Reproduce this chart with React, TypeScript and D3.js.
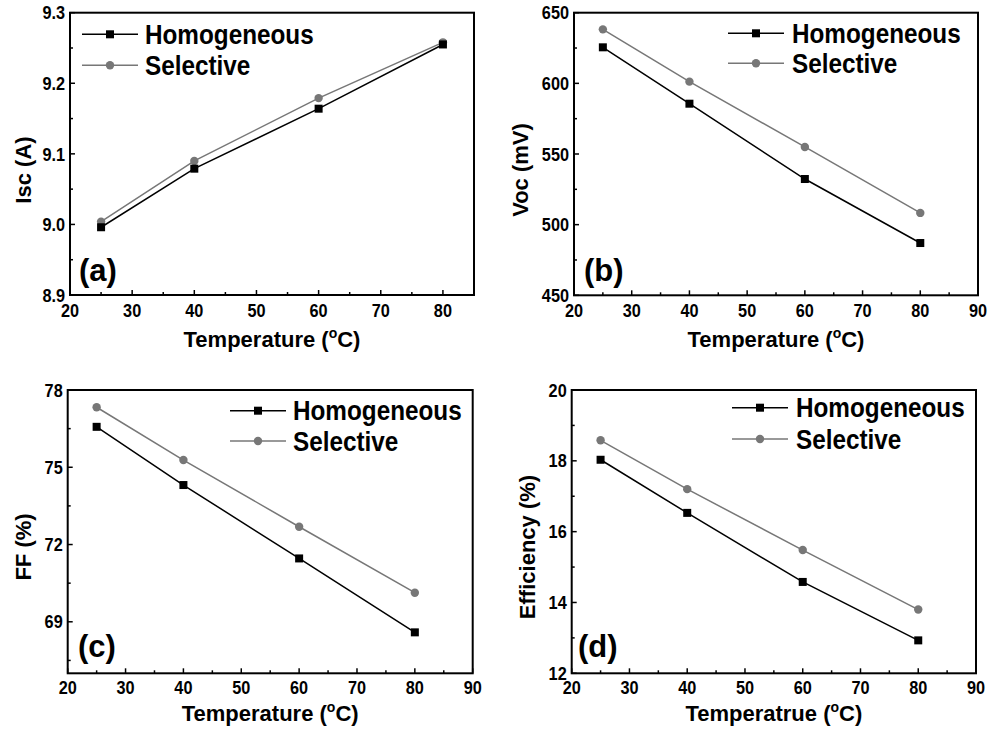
import React from "react";
import * as d3 from "d3";

const temps = [25, 40, 60, 80];
const iscHomog = [8.996, 9.079, 9.164, 9.255];
const iscSel = [9.004, 9.09, 9.179, 9.258];
const vocHomog = [625.5, 585.6, 532.3, 487.0];
const vocSel = [638.2, 601.2, 555.0, 508.3];
const ffHomog = [76.57, 74.31, 71.46, 68.59];
const ffSel = [77.33, 75.28, 72.69, 70.13];
const effHomog = [18.03, 16.53, 14.58, 12.93];
const effSel = [18.58, 17.2, 15.48, 13.8];
const seriesNames = ["Homogeneous", "Selective"];

const FONT = "'Liberation Sans', Arial, Helvetica, sans-serif";
const GRAY = "#777777";

type Panel = {
  id: string;
  label: string;
  yTitle: string;
  xTitle: string;
  left: number; right: number; top: number; bottom: number;
  xDomain: [number, number];
  yDomain: [number, number];
  yMajor: number[];
  yMinor: number[];
  xMajor: number[];
  xMinor: number[];
  yFmt: (v: number) => string;
  homog: number[];
  sel: number[];
  legX1: number; legX2: number; legText: number; legY1: number; legY2: number;
  labelX: number; labelY: number;
  yTitleX: number; yTitleY: number;
  xTitleY: number;
  xTickY: number;
};

const range = (a: number, b: number, s: number) => d3.range(a, b + s / 2, s);

const panels: Panel[] = [
  {
    id: "a", label: "(a)", yTitle: "Isc (A)", xTitle: "Temperature (",
    left: 70, right: 474, top: 12.7, bottom: 295,
    xDomain: [20, 85], yDomain: [8.9, 9.3],
    yMajor: range(8.9, 9.3, 0.1), yMinor: range(8.95, 9.25, 0.1),
    xMajor: range(20, 80, 10), xMinor: range(25, 75, 10),
    yFmt: d3.format(".1f"),
    homog: iscHomog, sel: iscSel,
    legX1: 82, legX2: 138, legText: 145, legY1: 34.3, legY2: 65.3,
    labelX: 79, labelY: 281, yTitleX: 23, yTitleY: 170, xTitleY: 347, xTickY: 317,
  },
  {
    id: "b", label: "(b)", yTitle: "Voc (mV)", xTitle: "Temperature (",
    left: 574, right: 978, top: 12.7, bottom: 295.3,
    xDomain: [20, 90], yDomain: [450, 650],
    yMajor: range(450, 650, 50), yMinor: range(475, 625, 50),
    xMajor: range(20, 90, 10), xMinor: range(25, 85, 10),
    yFmt: d3.format("d"),
    homog: vocHomog, sel: vocSel,
    legX1: 728, legX2: 784, legText: 792, legY1: 33.3, legY2: 63.3,
    labelX: 584, labelY: 281, yTitleX: 520, yTitleY: 170, xTitleY: 347, xTickY: 317,
  },
  {
    id: "c", label: "(c)", yTitle: "FF (%)", xTitle: "Temperature (",
    left: 67.7, right: 472.7, top: 390, bottom: 673.3,
    xDomain: [20, 90], yDomain: [67, 78],
    yMajor: range(69, 78, 3), yMinor: range(67.5, 76.5, 3),
    xMajor: range(20, 90, 10), xMinor: range(25, 85, 10),
    yFmt: d3.format("d"),
    homog: ffHomog, sel: ffSel,
    legX1: 230, legX2: 286, legText: 293, legY1: 410.7, legY2: 441,
    labelX: 78, labelY: 657, yTitleX: 23, yTitleY: 547, xTitleY: 721, xTickY: 694,
  },
  {
    id: "d", label: "(d)", yTitle: "Efficiency (%)", xTitle: "Temperatrue (",
    left: 571.7, right: 976, top: 390, bottom: 673.3,
    xDomain: [20, 90], yDomain: [12, 20],
    yMajor: range(12, 20, 2), yMinor: range(13, 19, 2),
    xMajor: range(20, 90, 10), xMinor: range(25, 85, 10),
    yFmt: d3.format("d"),
    homog: effHomog, sel: effSel,
    legX1: 732, legX2: 788, legText: 796, legY1: 407.7, legY2: 439,
    labelX: 578, labelY: 657, yTitleX: 527, yTitleY: 547, xTitleY: 721, xTickY: 694,
  },
];

function Txt({ x, y, sx = 1, size, anchor = "start", dy, rotate = 0, children }: any) {
  return (
    <g transform={`translate(${x},${y}) rotate(${rotate}) scale(${sx},1)`}>
      <text dy={dy} textAnchor={anchor} fontSize={size} fontWeight="bold" fontFamily={FONT}>{children}</text>
    </g>
  );
}

function PanelView({ p }: { p: Panel }) {
  const x = d3.scaleLinear().domain(p.xDomain).range([p.left, p.right]);
  const y = d3.scaleLinear().domain(p.yDomain).range([p.bottom, p.top]);
  const line = d3.line<number>().x((_, i) => x(temps[i])).y((v) => y(v));
  const M = 5, m = 3;
  const sq = 8, r = 4.2;
  return (
    <g>
      <path d={line(p.sel) || ""} fill="none" stroke={GRAY} strokeWidth={1.5} />
      <path d={line(p.homog) || ""} fill="none" stroke="#000" strokeWidth={1.5} />
      {p.sel.map((v, i) => (
        <circle key={"s" + i} cx={x(temps[i])} cy={y(v)} r={r} fill={GRAY} />
      ))}
      {p.homog.map((v, i) => (
        <rect key={"h" + i} x={x(temps[i]) - sq / 2} y={y(v) - sq / 2} width={sq} height={sq} fill="#000" />
      ))}
      {p.xMajor.map((t) => (
        <line key={"xm" + t} x1={x(t)} x2={x(t)} y1={p.bottom} y2={p.bottom - M} stroke="#000" strokeWidth={1.5} />
      ))}
      {p.xMinor.map((t) => (
        <line key={"xn" + t} x1={x(t)} x2={x(t)} y1={p.bottom} y2={p.bottom - m} stroke="#000" strokeWidth={1.5} />
      ))}
      {p.yMajor.map((t) => (
        <line key={"ym" + t} x1={p.left} x2={p.left + M} y1={y(t)} y2={y(t)} stroke="#000" strokeWidth={1.5} />
      ))}
      {p.yMinor.map((t) => (
        <line key={"yn" + t} x1={p.left} x2={p.left + m} y1={y(t)} y2={y(t)} stroke="#000" strokeWidth={1.5} />
      ))}
      <rect x={p.left} y={p.top} width={p.right - p.left} height={p.bottom - p.top} fill="none" stroke="#000" strokeWidth={2} />
      {p.xMajor.map((t) => (
        <Txt key={"xl" + t} x={x(t)} y={p.xTickY} sx={0.88} size={18.5} anchor="middle">{t}</Txt>
      ))}
      {p.yMajor.map((t) => (
        <Txt key={"yl" + t} x={p.left - 5} y={y(t)} dy="0.36em" sx={0.88} size={18.5} anchor="end">{p.yFmt(t)}</Txt>
      ))}
      <text x={(p.left + p.right) / 2} y={p.xTitleY} textAnchor="middle" fontSize={22} fontWeight="bold" fontFamily={FONT}>
        {p.xTitle}
        <tspan fontSize={14} dy={-9}>o</tspan>
        <tspan dy={9}>C)</tspan>
      </text>
      <text transform={`translate(${p.yTitleX},${p.yTitleY}) rotate(-90)`} dy="0.36em" textAnchor="middle" fontSize={22} fontWeight="bold" fontFamily={FONT}>{p.yTitle}</text>
      <text x={p.labelX} y={p.labelY} fontSize={31} fontWeight="bold" fontFamily={FONT}>{p.label}</text>
      <line x1={p.legX1} x2={p.legX2} y1={p.legY1} y2={p.legY1} stroke="#000" strokeWidth={1.5} />
      <rect x={(p.legX1 + p.legX2) / 2 - sq / 2} y={p.legY1 - sq / 2} width={sq} height={sq} fill="#000" />
      <Txt x={p.legText} y={p.legY1} dy="0.36em" sx={0.9} size={27}>{seriesNames[0]}</Txt>
      <line x1={p.legX1} x2={p.legX2} y1={p.legY2} y2={p.legY2} stroke={GRAY} strokeWidth={1.5} />
      <circle cx={(p.legX1 + p.legX2) / 2} cy={p.legY2} r={r} fill={GRAY} />
      <Txt x={p.legText} y={p.legY2} dy="0.36em" sx={0.9} size={27}>{seriesNames[1]}</Txt>
    </g>
  );
}

export default function App() {
  return (
    <svg width={989} height={735} style={{ position: "absolute", left: 0, top: 0, background: "#fff" }}>
      <rect width={989} height={735} fill="#fff" />
      {panels.map((p) => (
        <PanelView key={p.id} p={p} />
      ))}
    </svg>
  );
}
